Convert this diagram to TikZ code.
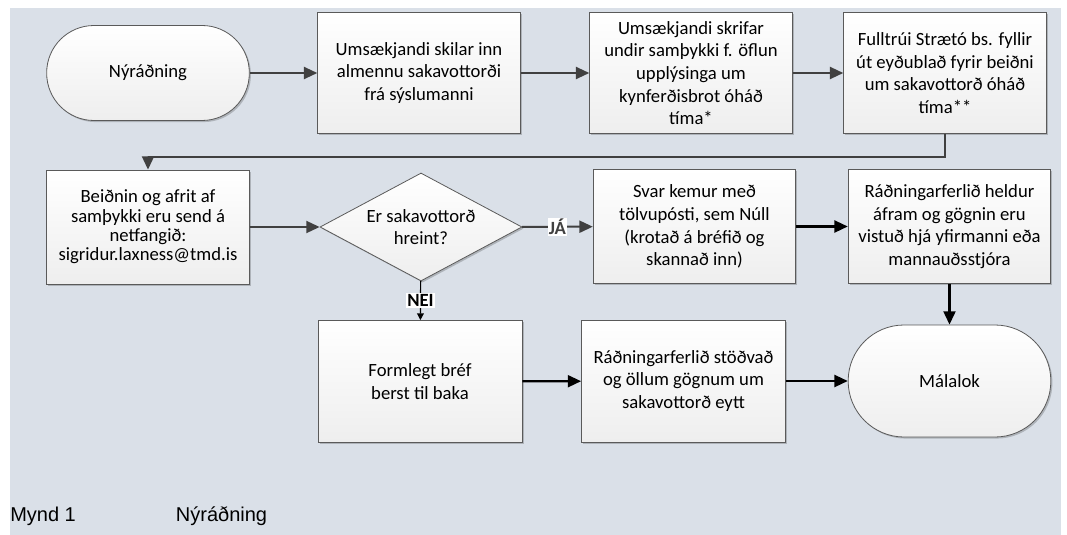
\documentclass[tikz,border=0pt]{standalone}
\usepackage{fontspec}
\setmainfont{Carlito}
\newfontfamily\capfont{Liberation Sans}
\usetikzlibrary{shapes.geometric, shadows, arrows.meta}

\definecolor{bgblue}{RGB}{218,224,232}
\definecolor{boxline}{RGB}{90,90,90}
\definecolor{arrowgray}{RGB}{64,64,64}
\definecolor{boxbottom}{RGB}{238,238,238}

\tikzset{
	procbox/.style={draw=boxline, line width=0.6pt, top color=white, bottom color=boxbottom,
		minimum width=152pt, align=center, inner sep=2pt,
		font=\fontsize{14}{17}\selectfont,
		drop shadow={shadow xshift=1.2pt, shadow yshift=-1.2pt, opacity=0.2, fill=black}},
	termbox/.style={procbox},
	decision/.style={procbox, diamond, aspect=1.87, inner sep=0pt, minimum width=151.5pt, minimum height=81pt},
	grayflow/.style={arrowgray, line width=1.5pt, -{Triangle[length=10pt,width=9pt]}},
	blackflow/.style={black, line width=1.6pt, -{Triangle[length=10pt,width=9pt]}},
	thinflow/.style={black, line width=0.9pt, -{Triangle[length=5pt,width=5pt]}},
	answer/.style={fill=white, inner sep=1pt, font=\fontsize{14}{16}\selectfont\bfseries}
}

\begin{document}
\begin{tikzpicture}[x=0.75pt, y=-0.75pt]
		% Background
		\useasboundingbox (0,0) rectangle (1067,535);
		\fill[white] (0,0) rectangle (1067,535);
		\fill[bgblue] (10,8) rectangle (1061,535);

		% First row
		\node[termbox, minimum height=71.25pt, rounded corners=35.5pt] (start) at (148,73) {Nýráðning};
		\node[procbox, minimum height=90.75pt] (submit) at (419,73) {Umsækjandi skilar inn\\almennu sakavottorði\\frá sýslumanni};
		\node[procbox, minimum height=90.75pt] (consent) at (691,73) {Umsækjandi skrifar\\undir samþykki f. öflun\\upplýsinga um\\kynferðisbrot óháð\\tíma*};
		\node[procbox, minimum height=90.75pt] (request) at (945,73) {Fulltrúi Strætó bs. fyllir\\út eyðublað fyrir beiðni\\um sakavottorð óháð\\tíma**};

		% Second row
		\node[procbox, minimum height=85.5pt, font=\fontsize{14}{14.5}\selectfont] (send) at (148,227) {Beiðnin og afrit af\\samþykki eru send á\\netfangið:\\sigridur.laxness@tmd.is};
		\node[decision] (check) at (421,227) {Er sakavottorð\\hreint?};
		\node[procbox, minimum height=85.5pt] (reply) at (694.5,226.5) {Svar kemur með\\tölvupósti, sem Núll\\(krotað á bréfið og\\skannað inn)};
		\node[procbox, minimum height=85.5pt] (keep) at (949.5,226.5) {Ráðningarferlið heldur\\áfram og gögnin eru\\vistuð hjá yfirmanni eða\\mannauðsstjóra};

		% Third row
		\node[procbox, minimum width=153pt, minimum height=91.5pt] (letter) at (420,381.5) {Formlegt bréf\\berst til baka};
		\node[procbox, minimum width=153pt, minimum height=91.5pt] (halt) at (683.5,381) {Ráðningarferlið stöðvað\\og öllum gögnum um\\sakavottorð eytt};
		\node[termbox, minimum height=84pt, rounded corners=41.9pt] (closed) at (949.5,381) {Málalok};

		% Caption
		\node[anchor=base west, inner sep=0pt, font=\capfont\fontsize{15}{18}\selectfont] (fig) at (10,521.7) {Mynd 1};
		\node[anchor=base west, inner sep=0pt, font=\capfont\fontsize{15}{18}\selectfont] (figname) at (175.7,521.7) {Nýráðning};

		% Connectors
		\draw[grayflow] (start) -- (submit);
		\draw[grayflow] (submit) -- (consent);
		\draw[grayflow] (consent) -- (request);
		\draw[grayflow] (request.south) -- ++(0,23) -| (send.north);
		\draw[grayflow] (send) -- (check);
		\draw[grayflow] (check) -- node[answer] {JÁ} (reply);
		\draw[blackflow] (reply) -- (keep);
		\draw[blackflow] (keep) -- (closed);
		\draw[thinflow] (check) -- node[answer] {NEI} (letter);
		\draw[blackflow] (letter) -- (halt);
		\draw[blackflow] (halt) -- (closed);
	\end{tikzpicture}
\end{document}
